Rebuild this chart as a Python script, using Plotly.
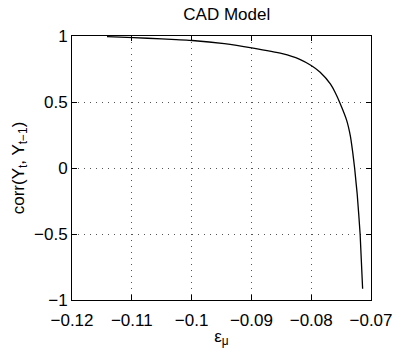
import plotly.graph_objects as go

eps_mu = [-0.11415, -0.10973, -0.1050, -0.09989, -0.09452, -0.08995, -0.08484, -0.0820,
          -0.0800, -0.0785, -0.07677, -0.07597, -0.07516, -0.07408, -0.07344, -0.07306,
          -0.07274, -0.07247, -0.07231, -0.07182, -0.0714]
corr = [0.995, 0.988, 0.978, 0.966, 0.942, 0.910, 0.866, 0.825,
        0.776, 0.725, 0.635, 0.570, 0.489, 0.363, 0.240, 0.120,
        0.0, -0.124, -0.197, -0.500, -0.915]

x_ticks = [-0.12, -0.11, -0.1, -0.09, -0.08, -0.07]
x_tick_labels = ["\u22120.12", "\u22120.11", "\u22120.1", "\u22120.09", "\u22120.08", "\u22120.07"]
y_ticks = [-1, -0.5, 0, 0.5, 1]
y_tick_labels = ["\u22121", "\u22120.5", "0", "0.5", "1"]

FONT = "Liberation Sans, Arial, Helvetica, sans-serif"

fig = go.Figure()
fig.add_trace(go.Scatter(x=eps_mu, y=corr, mode="lines",
                         line=dict(color="black", width=1.3, shape="spline", smoothing=0.5),
                         showlegend=False, hoverinfo="skip"))

axis_common = dict(showline=True, linecolor="black", linewidth=1, mirror="ticks",
                   ticks="inside", ticklen=5, tickcolor="black", tickwidth=1,
                   showgrid=True, gridcolor="#555555", griddash="1px,5px", gridwidth=1,
                   zeroline=False, tickfont=dict(family=FONT, size=17, color="black"))

fig.update_layout(
    width=405, height=354,
    margin=dict(l=72, r=23, t=36, b=44),
    paper_bgcolor="white", plot_bgcolor="white",
    font=dict(family=FONT, color="black"),
    title=dict(text="CAD Model", x=0.56, xanchor="center", y=0.96, yanchor="middle",
               font=dict(family=FONT, size=17, color="black")),
    xaxis=dict(range=[-0.12, -0.07], tickvals=x_ticks, ticktext=x_tick_labels,
               ticklabelstandoff=5,
               title=dict(text="\u03b5<sub>\u03bc</sub>", standoff=0,
                          font=dict(family=FONT, size=17, color="black")),
               **axis_common),
    yaxis=dict(range=[-1, 1], tickvals=y_ticks, ticktext=y_tick_labels,
               title=dict(text="corr(Y<sub>t</sub>, Y<sub>t\u22121</sub>)", standoff=5,
                          font=dict(family=FONT, size=17, color="black")),
               **axis_common),
)

fig.write_html("out.html")
